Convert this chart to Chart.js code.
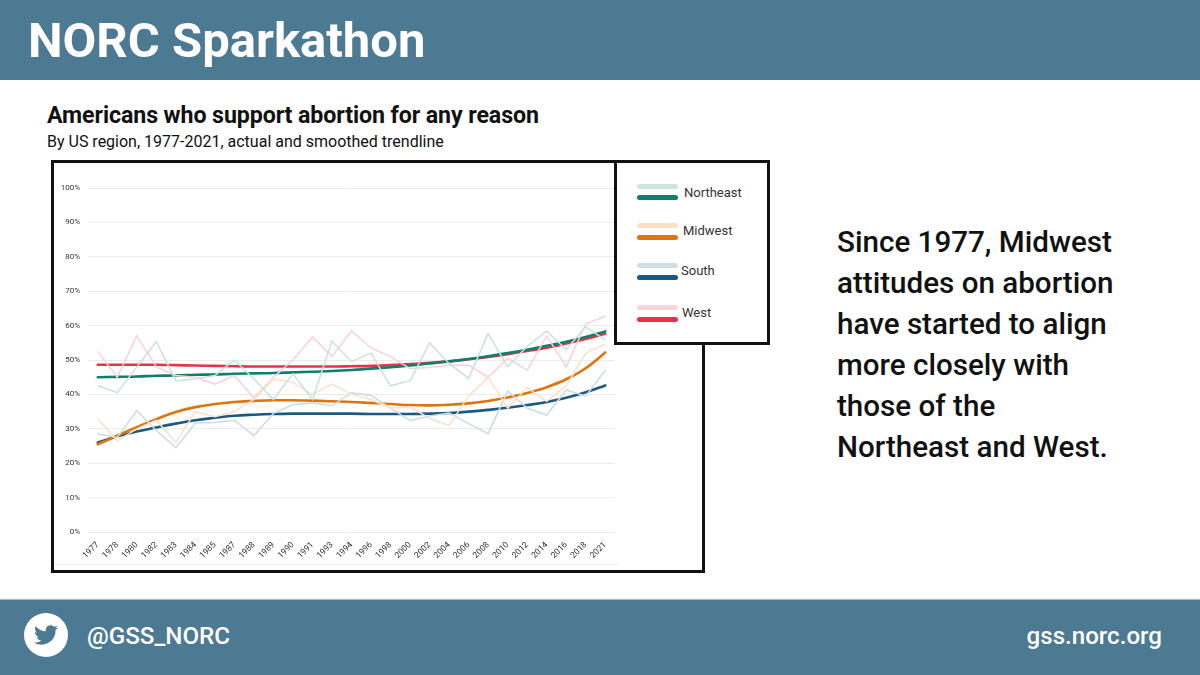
<!DOCTYPE html>
<html><head><meta charset="utf-8">
<script src="https://cdn.jsdelivr.net/npm/chart.js@4"></script>
<style>
html,body{margin:0;padding:0;background:#fff;}
body{width:1200px;height:675px;overflow:hidden;position:relative;font-family:Roboto,sans-serif;color:#111;}
.abs{position:absolute;white-space:nowrap;}
#head{left:0;top:0;width:1200px;height:80px;background:#4d7a93;}
#foot{left:0;top:600px;width:1200px;height:75px;background:#4d7a93;box-shadow:0 -1px 1px #bbb;}
#brand{left:28px;top:13px;font-size:49px;line-height:56px;font-weight:700;color:#fff;}
#title{left:47px;top:102px;font-size:23.2px;line-height:27px;font-weight:700;letter-spacing:-.1px;}
#sub{left:47px;top:132px;font-size:16px;line-height:20px;}
#box{left:51px;top:160px;width:648px;height:407px;border:3px solid #111;background:#fff;}
#cv{left:54px;top:163px;width:646px;height:406px;}
#floor{left:54px;top:564px;width:564px;height:1px;background:#eee;}
#legend{left:614px;top:160px;width:150px;height:179px;border:3px solid #111;background:#fff;}
.k{position:absolute;left:20px;width:41px;height:5px;border-radius:3px;}
.lt{position:absolute;font-size:13px;line-height:16px;color:#333;}
#msg{left:837px;top:222px;font-size:29.6px;line-height:41px;font-weight:500;color:#111;}
#handle{left:87px;top:622px;font-size:24.2px;line-height:28px;font-weight:500;color:#fff;}
#site{right:38px;top:622px;font-size:24.1px;line-height:28px;font-weight:500;color:#fff;}
#bird{left:24px;top:613px;width:44px;height:44px;}
</style></head>
<body>
<div class="abs" id="head"></div>
<div class="abs" id="brand">NORC Sparkathon</div>
<div class="abs" id="title">Americans who support abortion for any reason</div>
<div class="abs" id="sub">By US region, 1977-2021, actual and smoothed trendline</div>
<div class="abs" id="box"></div>
<div class="abs" id="floor"></div>
<div class="abs" id="cv"><canvas id="c" width="646" height="406"></canvas></div>
<div class="abs" id="legend">
  <div class="k" style="top:21px;background:#cfe6e0"></div><div class="k" style="top:32px;background:#0e7f6a"></div><div class="lt" style="left:67px;top:22px">Northeast</div>
  <div class="k" style="top:60px;background:#fbe0c8"></div><div class="k" style="top:72px;background:#e0730c"></div><div class="lt" style="left:66px;top:60px">Midwest</div>
  <div class="k" style="top:100px;background:#cfdde6"></div><div class="k" style="top:112px;background:#1b5a80"></div><div class="lt" style="left:64px;top:100px">South</div>
  <div class="k" style="top:142px;background:#fbd3da"></div><div class="k" style="top:154px;background:#e4344a"></div><div class="lt" style="left:65px;top:142px">West</div>
</div>
<div class="abs" id="msg">Since 1977, Midwest<br>attitudes on abortion<br>have started to align<br>more closely with<br>those of the<br>Northeast and West.</div>
<div class="abs" id="foot"></div>
<svg class="abs" id="bird" viewBox="0 0 44 44"><circle cx="22" cy="22" r="22" fill="#fff"/>
<g transform="translate(10 10) scale(1)"><path fill="#4d7a93" d="M24 4.557c-.883.392-1.832.656-2.828.775 1.017-.609 1.798-1.574 2.165-2.724-.951.564-2.005.974-3.127 1.195-.897-.957-2.178-1.555-3.594-1.555-3.179 0-5.515 2.966-4.797 6.045-4.091-.205-7.719-2.165-10.148-5.144-1.29 2.213-.669 5.108 1.523 6.574-.806-.026-1.566-.247-2.229-.616-.054 2.281 1.581 4.415 3.949 4.89-.693.188-1.452.232-2.224.084.626 1.956 2.444 3.379 4.6 3.419-2.07 1.623-4.678 2.348-7.29 2.04 2.179 1.397 4.768 2.212 7.548 2.212 9.142 0 14.307-7.721 13.995-14.646.962-.695 1.797-1.562 2.457-2.549z"/></g></svg>
<div class="abs" id="handle">@GSS_NORC</div>
<div class="abs" id="site">gss.norc.org</div>
<script>
const years = ["1977","1978","1980","1982","1983","1984","1985","1987","1988","1989","1990","1991","1993","1994","1996","1998","2000","2002","2004","2006","2008","2010","2012","2014","2016","2018","2021"];
const yTicks = [0,10,20,30,40,50,60,70,80,90,100];

const northeastActual = [42.5,40.5,48,55.3,44,44.5,45.5,50,44.5,38.5,46,38.5,55.5,49.5,52,42.5,44,55,49,44.7,57.7,48,54,58.4,53,59.7,55.8];
const midwestActual   = [33,26.5,30,32.5,26,35,33.5,35,38.5,44.5,43.5,40,43,40,38.5,36,36.4,33,31,39.5,45,36,42,38,42.5,52,54.6];
const southActual     = [28.5,27.5,35.3,29.5,24.5,31.7,31.8,32.5,28,34.5,37,37.5,36.7,40.5,39.7,36,32.4,33.7,34.6,31.5,28.6,41,36,34,41.3,39.5,47];
const westActual      = [52.5,45,57,48,45.5,45,43,45.5,39,45,50,56.7,51,58.5,53.5,51,47.5,47.8,48.5,48.5,45,50.5,47,57,48,60.5,62.7];

const northeastSmooth = [45,45.1,45.2,45.4,45.5,45.7,45.8,46,46.1,46.2,46.4,46.6,46.8,47.1,47.5,47.9,48.4,49,49.6,50.3,51.1,52,53,54.1,55.3,56.7,58.3];
const midwestSmooth   = [25.5,28,30.5,32.8,34.9,36.3,37.2,37.8,38.1,38.3,38.3,38.2,38,37.8,37.5,37.2,36.9,36.8,37,37.4,38.1,39.1,40.4,42.1,44.4,47.6,52.2];
const southSmooth     = [26,27.8,29.2,30.4,31.5,32.5,33.2,33.8,34.1,34.3,34.4,34.4,34.4,34.4,34.3,34.3,34.3,34.4,34.6,35,35.5,36.1,36.9,37.8,39,40.6,42.6];
const westSmooth      = [48.6,48.6,48.6,48.6,48.5,48.4,48.3,48.2,48.1,48.1,48.1,48.1,48.1,48.2,48.3,48.5,48.8,49.2,49.6,50.2,50.9,51.7,52.6,53.6,54.8,56.1,57.6];

const pale = (label,data,color)=>({label,data,borderColor:color,borderWidth:1.5,tension:0,pointRadius:0,fill:false});
const bold = (label,data,color)=>({label,data,borderColor:color,borderWidth:2.6,tension:0.4,pointRadius:0,fill:false,borderCapStyle:'round'});

new Chart(document.getElementById('c'),{
  type:'line',
  data:{labels:years,datasets:[
    pale('Northeast actual',northeastActual,'#c9e2dc'),
    pale('Midwest actual',midwestActual,'#fbe0c8'),
    pale('South actual',southActual,'#cbdbe5'),
    pale('West actual',westActual,'#fbd0d8'),
    bold('Midwest',midwestSmooth,'#e0730c'),
    bold('South',southSmooth,'#1b5a80'),
    bold('Northeast',northeastSmooth,'#0e7f6a'),
    bold('West',westSmooth,'#e4344a')
  ]},
  options:{
    responsive:false,animation:false,
    layout:{padding:{top:25,right:85,left:0,bottom:0}},
    plugins:{legend:{display:false},title:{display:false},tooltip:{enabled:false}},
    scales:{
      x:{offset:true,grid:{display:false},border:{display:false},
        afterFit(s){s.height=37;},
        ticks:{autoSkip:false,minRotation:45,maxRotation:45,padding:0,color:'#333',font:{family:'Roboto',size:8.5}}},
      y:{min:0,max:100,grid:{color:'#ececec',lineWidth:1,drawTicks:false},border:{display:false},
        afterFit(s){s.width=34;},
        afterBuildTicks(s){s.ticks=yTicks.map(v=>({value:v}));},
        ticks:{padding:8,color:'#333',font:{family:'Roboto',size:8},callback:v=>v+'%'}}
    }
  }
});
</script>
</body></html>
